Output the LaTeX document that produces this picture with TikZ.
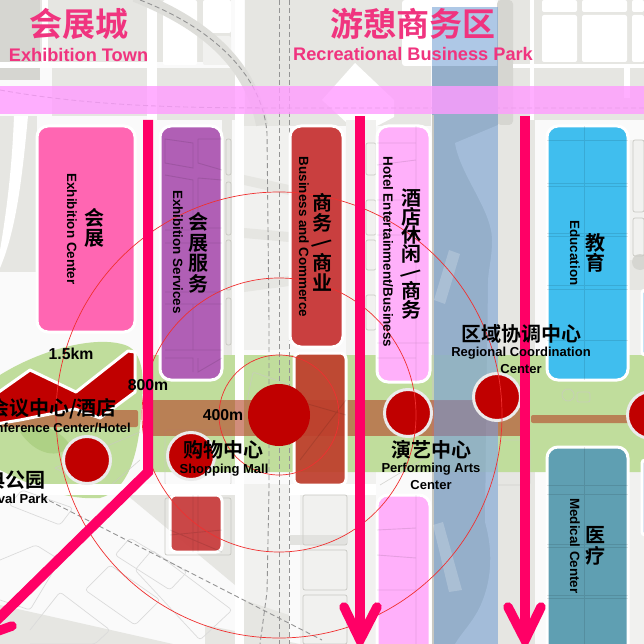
\documentclass[tikz,border=0pt]{standalone}
\usepackage{fontspec}
\usepackage{graphicx}
\setmainfont{Liberation Sans}
\newfontfamily\cjk{Noto Sans CJK SC}[BoldFont={Noto Sans CJK SC Bold}]
\definecolor{plot}{HTML}{E6E6E2}
\definecolor{plotb}{HTML}{F1F1EF}
\definecolor{plotd}{HTML}{D6D6D1}
\definecolor{riverbase}{HTML}{C8C8C2}
\definecolor{edge}{HTML}{C9C9C3}
\definecolor{roadp}{HTML}{FF0066}
\definecolor{titlep}{HTML}{F0347F}
\definecolor{deepr}{HTML}{C00000}
\definecolor{parkg}{HTML}{C0DD9C}
\definecolor{axisb}{HTML}{B5482A}
\definecolor{bandp}{HTML}{FF9CFF}
\definecolor{riverb}{HTML}{6C9BD2}
\definecolor{cpink}{HTML}{FF66B2}
\definecolor{cpurple}{HTML}{B05FB5}
\definecolor{cred}{HTML}{C93F3F}
\definecolor{credb}{HTML}{BE3D2B}
\definecolor{chotel}{HTML}{FFB0FA}
\definecolor{cblue}{HTML}{40BEEE}
\definecolor{cteal}{HTML}{5F9FB2}
\definecolor{ringc}{HTML}{F03030}
\newcommand{\zh}[2]{{\cjk\bfseries\fontsize{#1}{#1}\selectfont #2}}
\newcommand{\ch}[1]{\hbox to 24pt{\hss #1\hss}}
\newcommand{\vzh}[2][20.5]{\vbox{\cjk\bfseries\fontsize{20}{21}\selectfont\baselineskip=#1pt\lineskiplimit=-12pt #2}}
\newcommand{\slashr}{\rotatebox[origin=c]{-60}{/}}
\tikzset{
 plotline/.style={draw=edge,line width=0.7pt,rounded corners=2pt},
 thinplot/.style={draw=black!14,line width=.7pt,rounded corners=3pt},
 block/.style={draw=white,line width=3pt,rounded corners=11pt},
 grid/.style={draw=black,draw opacity=0.1,line width=0.9pt},
 ringline/.style={draw=ringc,line width=0.7pt},
 road/.style={draw=roadp,line width=10pt},
 rchev/.style={draw=roadp,line width=9.5pt,line cap=round,line join=miter},
 dashr/.style={draw=black!42,line width=0.9pt,dash pattern=on 5pt off 3pt},
 hub/.style={circle,fill=deepr,draw=white!92!black,line width=3pt,minimum size=47pt,inner sep=0pt},
 vlab/.style={rotate=-90,font=\bfseries\fontsize{13.4}{15}\selectfont,inner sep=0pt},
 lab/.style={font=\bfseries\fontsize{13}{16}\selectfont,inner sep=0pt},
 dist/.style={font=\bfseries\fontsize{15.8}{17}\selectfont,inner sep=0pt},
 stack/.style={inner sep=0pt},
 titlezh/.style={text=titlep,inner sep=0pt},
 titleen/.style={text=titlep,inner sep=0pt,font=\bfseries\fontsize{18.2}{20}\selectfont},
}
\begin{document}
\begin{tikzpicture}[x=1pt,y=-1pt]
\useasboundingbox (0,0) rectangle (644,644);
\clip (0,0) rectangle (644,644);
\fill[white!98!black] (0,0) rectangle (644,644);
% ---- base map: upper plots
\fill[plotd] (0,0) rectangle (40,80);
\fill[plot] (40,0) rectangle (147,62);
\fill[plot] (52,68) rectangle (147,116);
\fill[plot] (157,68) rectangle (235,120);
\fill[plot] (157,0) rectangle (231,62);
\fill[white,rounded corners=2pt] (163,0) rectangle (197,65);
\fill[white,rounded corners=2pt] (203,0) rectangle (231,33);
\fill[plotb,rounded corners=2pt] (203,36) rectangle (231,65);
\fill[plot] (245,0) rectangle (431,126);
\fill[white] (355,63) -- (394,100) -- (394,117) -- (360,135) -- (322,100) -- cycle;
\fill[white,rounded corners=3pt] (402,0) rectangle (497,66);
\fill[plot] (498,0) rectangle (535,644);
\fill[plotd,rounded corners=4pt] (497,0) rectangle (513,125);
\fill[plot] (534,0) rectangle (644,120);
\foreach \a/\b/\c/\d in {542/15/577/62,582/15/627/62,632/15/644/62,542/0/577/12,582/0/627/12,632/0/644/12}
  \fill[white,rounded corners=2pt] (\a,\b) rectangle (\c,\d);
\fill[white] (530,0) rectangle (534,120);
\fill[white] (513,64) rectangle (644,68);
\fill[white] (624,68) rectangle (630,98);
% ---- base map: left middle
\fill[plot] (0,116) rectangle (37,272);
\fill[white] (28,116) .. controls (22,180) and (16,230) .. (0,268) -- (0,250) .. controls (6,215) and (12,170) .. (14,116) -- cycle;
\fill[plot] (222,120) rectangle (232,360);
\fill[plotb] (244,120) rectangle (289,350);
\fill[plot] (244,114) rectangle (289,126);
\fill[plot] (244,175) -- (289,185) -- (289,195) -- (244,185) -- cycle;
\fill[plot] (244,228) -- (289,232) -- (289,242) -- (244,238) -- cycle;
\fill[plot] (244,282) -- (289,276) -- (289,286) -- (244,292) -- cycle;
\fill[plotb] (346,120) rectangle (376,644);
\fill[plotb] (628,140) rectangle (644,644);
\fill[plot] (628,260) rectangle (644,290);
\fill[plotd] (640,262) circle (8);
% ---- green spine and park
\fill[parkg,rounded corners=8pt] (146,355) rectangle (660,472);
\fill[parkg] (0,375) .. controls (40,350) and (95,335) .. (125,345) .. controls (140,350) and (145,370) .. (142,400) .. controls (140,450) and (130,490) .. (100,498) .. controls (70,500) and (40,490) .. (0,470) -- cycle;
\fill[olive!45!green!55!white,opacity=.5] (20,432) .. controls (40,420) and (60,430) .. (70,445) .. controls (60,460) and (35,455) .. (20,432) -- cycle;
\draw[plotline,draw opacity=.7] (55,468) -- (140,432) (55,468) -- (103,492) -- (140,460);
\draw[plotline,draw opacity=.7] (165,430) rectangle (231,485);
\draw[plotline,draw opacity=.7] (243,420) -- (253,372) -- (290,385);
\draw[plotline,draw opacity=.7] (380,485) -- (430,455);
\draw[plotline,draw opacity=.7] (480,440) rectangle (530,485);
\draw[plotline,draw opacity=.7] (568,395) circle (6) (577,392) rectangle (590,402);
% ---- lower map
\fill[plotb] (127,484) rectangle (235,495);
\fill[plot] (127,495) -- (235,495) -- (235,585) -- cycle;
\fill[plotb] (244,484) rectangle (289,644);
\fill[plot] (244,600) -- (289,615) -- (289,644) -- (244,644) -- cycle;
\fill[plotb] (300,495) rectangle (346,644);
\fill[plotd!70!white] (290,535) rectangle (346,545);
\fill[white] (290,484) rectangle (376,495);
\fill[white] (0,484) -- (235,484) -- (235,495) -- (0,495) -- cycle;
\fill[plot] (0,605) -- (173,644) -- (0,644) -- cycle;
\fill[plot] (205,625) -- (300,644) -- (205,644) -- cycle;
\foreach \p in {{(60,525) -- (73,508) -- (22,490) -- (9,505) -- cycle},{(0,560) -- (36,545) -- (60,560) -- (30,610) -- (0,600)},{(115,555) -- (130,538) -- (187,572) -- (170,590) -- cycle},{(85,590) -- (110,565) -- (160,600) -- (135,625) -- cycle},{(135,570) -- (152,550) -- (232,610) -- (200,640) -- cycle},{(30,630) -- (60,592) -- (110,630) -- (95,644) -- (30,644)}}
  \draw[thinplot] \p;
\draw[plotline] (165,498) rectangle (231,555);
\draw[plotline] (303,495) rectangle (347,545);
\draw[plotline] (303,550) rectangle (347,590);
\draw[plotline] (303,595) rectangle (347,644);
\draw[plotline] (226,139) rectangle (231,175);
\draw[plotline] (226,182) rectangle (231,235);
\draw[plotline] (226,240) rectangle (231,290);
\draw[plotline] (226,298) rectangle (231,345);
\draw[plotline] (366,143) rectangle (376,175);
\draw[plotline] (366,200) rectangle (376,235);
\draw[plotline] (366,240) rectangle (376,270);
\draw[plotline] (366,295) rectangle (376,330);
\draw[plotline] (633,140) rectangle (644,212);
\draw[plotline] (633,218) rectangle (644,256);
% white streets over the base
\fill[white] (147,0) rectangle (157,120);
\fill[white] (235,0) rectangle (244,644);
\fill[white] (42,0) rectangle (48,62);
\fill[white] (0,62) rectangle (147,68);
% curved road with rail
\draw[draw=plotd!80!white,line width=12pt] (135,-4) .. controls (200,22) and (250,60) .. (262,125);
\draw[dashr] (140,0) .. controls (205,25) and (262,70) .. (267,133) -- (269,322) -- (269,489) -- (267,592) -- (260,644);
\draw[dashr] (279,0) -- (279,644);
\draw[dashr] (289,0) -- (289,644);
\draw[dashr] (42,497) -- (150,552) -- (267,612) -- (322,640);
\draw[dashr] (0,90) .. controls (100,108) and (200,108) .. (300,108) -- (644,108);
% ---- river ground
\fill[riverbase] (432,66) rectangle (498,644);
\fill[plot] (455,143) .. controls (460,175) and (492,210) .. (492,240) .. controls (492,260) and (488,270) .. (488,283) -- (485,522) .. controls (490,540) and (495,570) .. (482,602) .. controls (475,620) and (462,632) .. (455,644) -- (498,644) -- (498,125) -- cycle;
% ---- brown axis
\fill[axisb,opacity=.62] (150,400) rectangle (521,436);
\fill[axisb,opacity=.62,rounded corners=2pt] (0,410) rectangle (138,427);
\fill[axisb,opacity=.62,rounded corners=2pt] (531,415) rectangle (644,423);
\fill[parkg,opacity=.45] (432,355) rectangle (498,400) (432,436) rectangle (498,472);
% ---- functional blocks
\path[block,fill=cpink] (37,126) rectangle (135,332);
\path[block,fill=cpurple] (160,126) rectangle (222,380);
\path[block,fill=cred] (290,126) rectangle (343,347);
\path[block,fill=credb,fill opacity=.92,rounded corners=6pt] (294,353) rectangle (346,485);
\path[block,fill=chotel] (377,126) rectangle (430,382);
\path[block,fill=chotel] (377,495) rectangle (430,700);
\path[block,fill=cblue] (547,126) rectangle (628,380);
\path[block,fill=cteal] (547,447) rectangle (628,700);
\path[block,fill=cred,fill opacity=.95,rounded corners=6pt] (170,495) rectangle (222,552);
\path[block,fill=cblue!60!riverb,rounded corners=3pt] (642,290) rectangle (660,355);
\path[block,fill=riverb!70!white,rounded corners=3pt] (642,460) rectangle (660,535);
% grid inside blocks
\draw[grid] (165,139) -- (193,143) -- (193,168) -- (165,163) -- cycle (198,139) -- (222,139) (198,139) -- (198,163) -- (222,170);
\draw[grid] (165,175) -- (193,180) -- (193,230) -- (165,230) (198,178) -- (222,180) (198,178) -- (198,228) -- (222,228);
\draw[grid] (165,243) -- (222,243) (193,243) -- (193,290) (165,292) -- (222,292) (165,304) -- (222,304) (193,304) -- (193,350) (165,350) -- (222,350) (165,358) -- (193,358) -- (193,372) (198,358) -- (198,372) -- (222,358);
\draw[grid] (584,126) -- (584,380) (547,140) -- (628,140) (547,183) -- (628,183) (547,186) -- (628,186) (547,233) -- (628,233) (547,236) -- (628,236) (547,285) -- (628,285) (547,289) -- (628,289) (547,340) -- (628,340);
\draw[grid] (584,447) -- (584,644) (547,485) -- (628,485) (547,494) -- (628,494) (547,544) -- (628,544) (547,547) -- (628,547) (547,595) -- (628,595) (547,598) -- (628,598);
\draw[grid] (416,126) -- (416,382) (377,143) -- (416,143) (377,165) -- (416,160) (377,200) -- (416,200) (377,235) -- (416,235) (377,343) -- (430,343) (377,358) -- (416,358) (416,495) -- (416,644) (377,530) -- (416,528) (377,555) -- (416,558) (377,590) -- (416,590);
\draw[grid] (193,495) -- (193,552) (198,495) -- (198,552) (170,530) -- (222,552) (170,535) -- (222,530);
\draw[grid] (294,400) -- (346,415) (300,460) -- (346,400);
% zigzag conference block
\path[draw=white,line width=3pt,fill=deepr,line join=round] (-4,394) -- (30,370) -- (76,392) -- (128,351) -- (135,352) -- (135,392) -- (100,418) -- (75,409) -- (20,420) -- (-4,424) -- cycle;
% river and band tints
\fill[riverb,opacity=.55] (432,7) rectangle (498,115);
\fill[riverb,opacity=.55] (434,115) rectangle (498,644);
\fill[white,opacity=.2] (449,250) -- (460,254) -- (445,304) -- (434,300) -- cycle;
\fill[white,opacity=.2] (433,525) -- (443,522) -- (462,590) -- (449,592) -- cycle;
\fill[bandp,opacity=.8] (0,86) rectangle (644,114);
% ---- hubs
\node[circle,fill=deepr,minimum size=62pt,inner sep=0pt] (hubmain) at (279,415) {};
\node[hub] (hubconf) at (87,460) {};
\node[hub] (hubshop) at (191,456) {};
\node[hub] (hubarts) at (408,413) {};
\node[hub] (hubreg) at (497,397) {};
\node[hub] (hubright) at (651,415) {};
% ---- rings
\draw[ringline] (hubmain.center) circle (60);
\draw[ringline] (hubmain.center) circle (137);
\draw[ringline] (hubmain.center) circle (223);
% ---- pink roads
\coordinate (roada) at (148,120);
\coordinate (roadb) at (148,472);
\coordinate (roadc) at (-8,625);
\coordinate (roadd) at (360,116);
\coordinate (roade) at (360,640);
\coordinate (roadf) at (525,116);
\coordinate (roadg) at (525,640);
\draw[road,line join=miter] (roada) -- (roadb) -- (roadc);
\draw[rchev] (-2,631) -- (12,626);
\draw[road] (roadd) -- (roade);
\draw[road] (roadf) -- (roadg);
\draw[rchev] (344,607) -- (roade) -- (377,607);
\draw[rchev] (508,607) -- (roadg) -- (541,607);
% ---- titles
\node[titlezh] (t1) at (79,24) {\zh{33}{会展城}};
\node[titleen] (t2) at (78.5,55) {Exhibition Town};
\node[titlezh] (t3) at (413,24) {\zh{33}{游憩商务区}};
\node[titleen] (t4) at (413,54) {Recreational Business Park};
% ---- block labels
\node[stack] (a1) at (94,228) {\vzh{\ch{会}\ch{展}}};
\node[vlab] (a2) at (72,229) {Exhibition Center};
\node[stack] (b1) at (198,253) {\vzh{\ch{会}\ch{展}\ch{服}\ch{务}}};
\node[vlab] (b2) at (178,252) {Exhibition Services};
\node[stack] (c1) at (322,242) {\vzh[20]{\ch{商}\ch{务}\ch{\slashr}\ch{商}\ch{业}}};
\node[vlab] (c2) at (304,237) {Business and Commerce};
\node[stack] (d1) at (411,254) {\vzh[18.6]{\ch{酒}\ch{店}\ch{休}\ch{闲}\ch{\slashr}\ch{商}\ch{务}}};
\node[vlab] (d2) at (388,252) {Hotel Entertainment/Business};
\node[stack] (e1) at (595,253) {\vzh{\ch{教}\ch{育}}};
\node[vlab] (e2) at (575,253) {Education};
\node[stack] (f1) at (595,546) {\vzh{\ch{医}\ch{疗}}};
\node[vlab] (f2) at (575,546) {Medical Center};
% ---- hub labels
\node[inner sep=0pt,anchor=east] (g1) at (117,409) {\zh{20}{会议中心/酒店}};
\node[lab,anchor=east] (g2) at (131,428) {Conference Center/Hotel};
\node[inner sep=0pt,anchor=east] (h1) at (46,480) {\zh{20}{庆典公园}};
\node[lab,anchor=east] (h2) at (48,499) {Festival Park};
\node[inner sep=0pt] (i1) at (223,450) {\zh{20}{购物中心}};
\node[lab] (i2) at (224,470) {Shopping Mall};
\node[inner sep=0pt] (j1) at (431,450) {\zh{20}{演艺中心}};
\node[lab] (j2) at (431,469) {Performing Arts};
\node[lab] (j3) at (431,485) {Center};
\node[inner sep=0pt] (k1) at (521,334) {\zh{20}{区域协调中心}};
\node[lab] (k2) at (521,353) {Regional Coordination};
\node[lab] (k3) at (521,369) {Center};
% ---- distances
\node[dist] (m1) at (71,354) {1.5km};
\node[dist] (m2) at (148,385) {800m};
\node[dist] (m3) at (223,415) {400m};
\end{tikzpicture}
\end{document}
